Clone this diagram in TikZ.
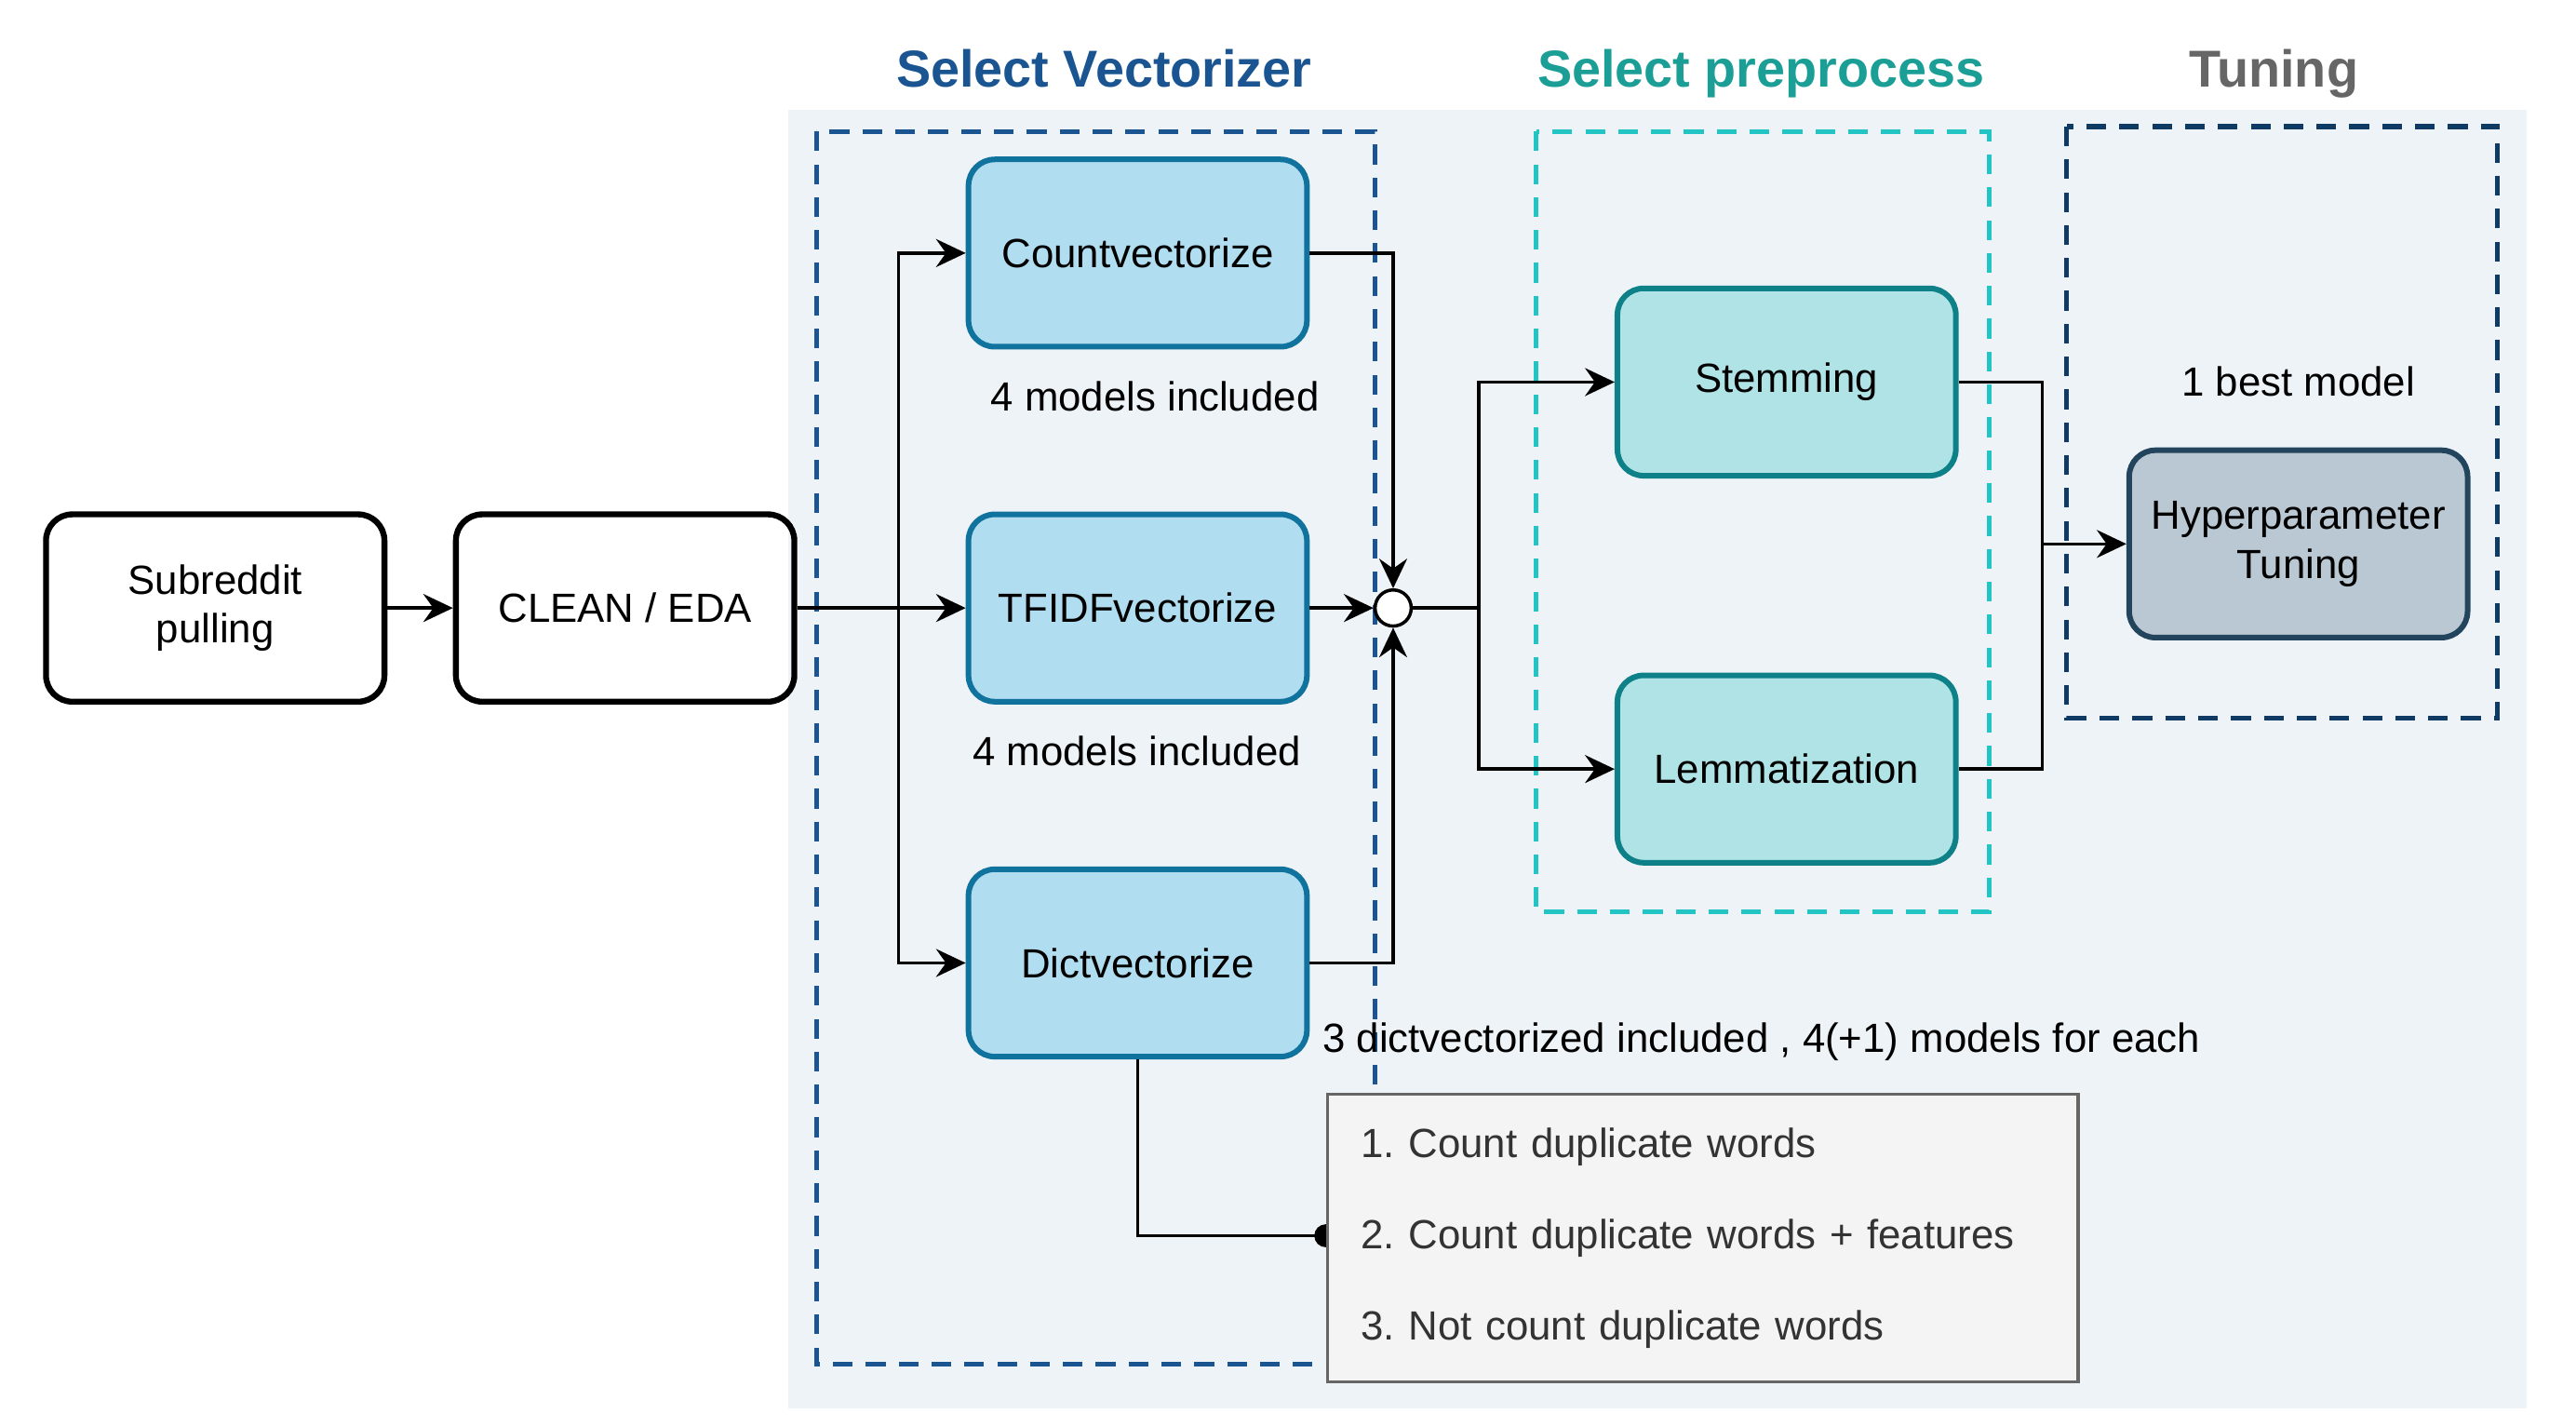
\documentclass[tikz,border=0pt]{standalone}
\usepackage{fontspec}
\setmainfont{Liberation Sans}
\usetikzlibrary{arrows.meta,positioning}

\definecolor{panelbg}{HTML}{EEF3F8}
\definecolor{vecline}{HTML}{1A5592}
\definecolor{vecfill}{HTML}{B1DDF0}
\definecolor{vecdraw}{HTML}{10739E}
\definecolor{prefill}{HTML}{B0E3E6}
\definecolor{predraw}{HTML}{0E8088}
\definecolor{preline}{HTML}{23C4C4}
\definecolor{pretitle}{HTML}{1B9E95}
\definecolor{tunfill}{HTML}{BAC8D3}
\definecolor{tundraw}{HTML}{23445D}
\definecolor{tunline}{HTML}{0F3A64}
\definecolor{listfill}{HTML}{F4F4F4}
\definecolor{listdraw}{HTML}{666666}
\definecolor{listtext}{HTML}{333333}

\newcommand{\diagfont}{\fontsize{12.4}{15}\selectfont}
\newcommand{\headfont}{\fontsize{15.8}{18}\selectfont\bfseries}
\frenchspacing

\begin{document}
\begin{tikzpicture}[x=0.5pt, y=-0.5pt, >={Stealth[length=9pt,width=8.5pt,inset=3pt]},
    box/.style={draw, line width=1.8pt, rounded corners=8pt, minimum width=103pt,
        minimum height=57pt, align=center, font=\diagfont},
    vbox/.style={box, fill=vecfill, draw=vecdraw, line width=1.7pt},
    pbox/.style={box, fill=prefill, draw=predraw, line width=1.7pt},
    tbox/.style={box, fill=tunfill, draw=tundraw, line width=1.7pt},
    stage/.style={line width=1.5pt, dash pattern=on 6pt off 4pt},
    head/.style={font=\headfont, anchor=base},
    note/.style={font=\diagfont},
    conn/.style={line width=1pt},
    junc/.style={circle, draw, line width=1pt, fill=white, minimum size=11pt, inner sep=0pt}]
\useasboundingbox (0,0) rectangle (1568,868);

% background and stage frames
\fill[panelbg] (480,67) rectangle (1538,857);
\draw[stage, vecline] (497,80) rectangle (837,830);
\draw[stage, preline] (935,80) rectangle (1211,555);
\draw[stage, tunline] (1258,77) rectangle (1520,437);

\node[head, text=vecline] (hvec) at (672,52.7) {Select Vectorizer};
\node[head, text=pretitle] (hpre) at (1072,52.7) {Select preprocess};
\node[head, text=listdraw] (htun) at (1384,52.7) {Tuning};

% boxes
\node[box] (sub) at (131,370) {Subreddit\\pulling};
\node[box] (clean) at (380.5,370) {CLEAN / EDA};
\node[vbox] (cnt) at (692.5,154) {Countvectorize};
\node[vbox] (tfidf) at (692.5,370) {TFIDFvectorize};
\node[vbox] (dict) at (692.5,586) {Dictvectorize};
\node[pbox] (stem) at (1087.5,232.5) {Stemming};
\node[pbox] (lem) at (1087.5,468) {Lemmatization};
\node[tbox] (hyp) at (1399,331) {Hyperparameter\\Tuning};
\node[junc] (mix) at (848,370) {};

\node[note] (cntnote) at (703,241) {4 models included};
\node[note] (tfnote) at (692,457) {4 models included};
\node[note, anchor=west] (dictnote) at (798,634) {3 dictvectorized included , 4(+1) models for each};
\node[note] (best) at (1399,232) {1 best model};

% connectors
\coordinate (split) at (547,370);
\coordinate (fork) at (900,370);
\coordinate (join) at (1243,331);
\coordinate (optsw) at (807,752);

\draw[conn, ->] (sub) -- (clean);
\draw[conn, ->] (clean) -- (tfidf);
\draw[conn, ->] (split) |- (cnt);
\draw[conn, ->] (split) |- (dict);
\draw[conn, ->] (cnt) -| (mix);
\draw[conn, ->] (tfidf) -- (mix);
\draw[conn, ->] (dict) -| (mix);
\draw[conn] (mix) -- (fork);
\draw[conn, ->] (fork) |- (stem);
\draw[conn, ->] (fork) |- (lem);
\draw[conn] (stem) -| (join) |- (lem);
\draw[conn, ->] (join) -- (hyp);
\draw[conn] (dict) |- (optsw);
\fill (optsw) circle (3.5pt);

\node[draw=listdraw, fill=listfill, line width=1pt, anchor=north west,
    minimum width=228.5pt, minimum height=87.5pt, text width=208pt,
    align=left, inner xsep=10pt, text=listtext,
    font=\fontsize{12.4}{27.75}\selectfont] (opts) at (807,665)
    {1. Count duplicate words\\2. Count duplicate words + features\\3. Not count duplicate words};
\end{tikzpicture}
\end{document}
